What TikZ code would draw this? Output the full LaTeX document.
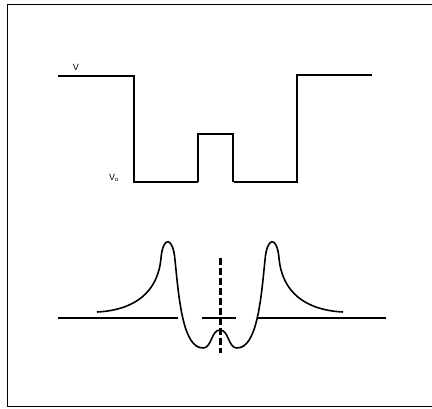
\documentclass[tikz,border=0pt]{standalone}
\usepackage{fontspec}
\setmainfont{Liberation Sans}
\usepackage{tikz}

\begin{document}
\begin{tikzpicture}[
  x=1pt, y=-1pt,
  marco/.style={line width=1.4pt},
  linea/.style={line width=1.7pt, line join=miter},
  eje/.style={line width=1.5pt},
  simetria/.style={line width=3pt, dash pattern=on 6.5pt off 3.5pt},
  etiq/.style={font=\fontsize{9}{10}\selectfont, inner sep=0pt}
]
  \useasboundingbox (0,0) rectangle (432,408);
  % marco
  \draw[marco] (432,4.5) -- (7.5,4.5) -- (7.5,406.5) -- (432,406.5);

  % potencial
  \draw[linea] (58,76) -- (134,76) -- (134,182) -- (198,182);
  \draw[linea] (198,182) -- (198,134) -- (233,134) -- (233,182);
  \draw[linea] (234,182) -- (297,182) -- (297,75) -- (372,75);
  \node[etiq] (v) at (76,67.5) {V};
  \node[etiq] (v0) at (114,178) {V\textsubscript{\fontsize{6}{6}\selectfont o}};

  % funcion de onda
  \draw[eje] (58,318) -- (178,318);
  \draw[eje] (202,318) -- (236,318);
  \draw[eje] (258,318) -- (386,318);
  \draw[linea, line width=1.6pt] (97,312)
    .. controls (135,310) and (158,292) .. (161,258)
    .. controls (163,236) and (173,236) .. (175,260)
    .. controls (179,300) and (183,348) .. (203,348)
    .. controls (212,348) and (211,330) .. (220,330)
    .. controls (229,330) and (228,348) .. (237,348)
    .. controls (257,348) and (261,300) .. (265,260)
    .. controls (267,236) and (277,236) .. (279,258)
    .. controls (282,292) and (305,310) .. (343,312);
  \draw[simetria] (220,258) -- (220,353);
\end{tikzpicture}
\end{document}
